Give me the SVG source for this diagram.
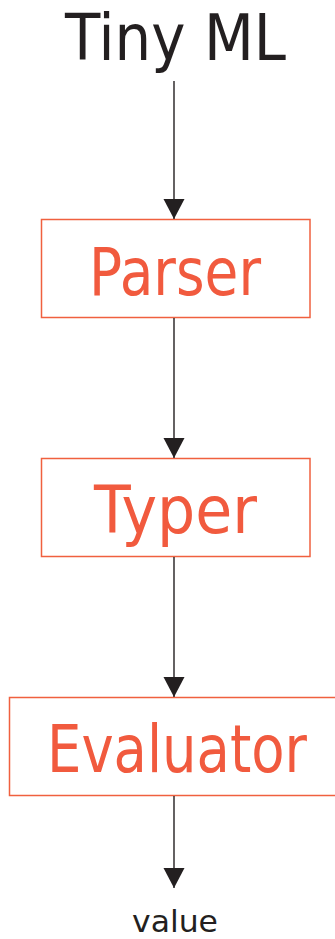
<svg xmlns="http://www.w3.org/2000/svg" width="335" height="939" viewBox="0 0 335 939">
<style>
.box{fill:#fff;stroke:#f0603f;stroke-width:1.5}
.lbl{font-family:"DejaVu Sans","Noto Sans",sans-serif;font-size:65px;fill:#f15a3e;text-anchor:middle}
.blk{font-family:"DejaVu Sans","Noto Sans",sans-serif;fill:#231f20;text-anchor:middle}
.conn{stroke:#231f20;stroke-width:1.4;fill:none;marker-end:url(#ah)}
</style>
<defs>
<marker id="ah" markerUnits="userSpaceOnUse" markerWidth="22" markerHeight="22" refX="20" refY="10.5" orient="auto">
<path d="M0,0 L20,10.5 L0,21 Z" fill="#231f20"/>
</marker>
</defs>
<rect width="335" height="939" fill="#fff"/>
<g id="tinyml"><text class="blk" x="175.5" y="60" font-size="64" textLength="221" lengthAdjust="spacingAndGlyphs">Tiny ML</text></g>
<g id="parser"><rect class="box" x="41.5" y="219.5" width="268.5" height="98"/><text class="lbl" x="175" y="295" textLength="172" lengthAdjust="spacingAndGlyphs">Parser</text></g>
<g id="typer"><rect class="box" x="41.5" y="458.5" width="268.5" height="98"/><text class="lbl" x="175.5" y="533" textLength="163" lengthAdjust="spacingAndGlyphs">Typer</text></g>
<g id="evaluator"><rect class="box" x="9.5" y="697.5" width="330" height="98"/><text class="lbl" x="177" y="772" textLength="260" lengthAdjust="spacingAndGlyphs">Evaluator</text></g>
<g id="value"><text class="blk" x="175" y="932" font-size="30" textLength="86" lengthAdjust="spacingAndGlyphs">value</text></g>
<g id="connectors">
<line class="conn" x1="174" y1="81" x2="174" y2="219"/>
<line class="conn" x1="174" y1="318" x2="174" y2="458"/>
<line class="conn" x1="174" y1="557" x2="174" y2="697"/>
<line class="conn" x1="174" y1="796" x2="174" y2="888"/>
</g>
</svg>
